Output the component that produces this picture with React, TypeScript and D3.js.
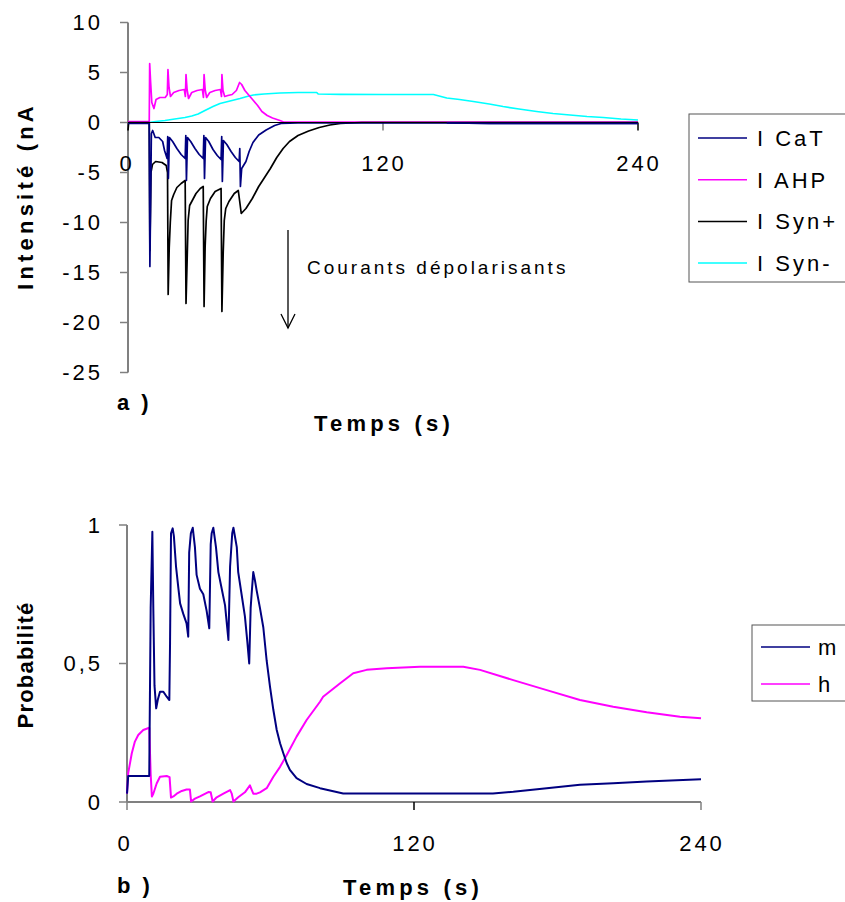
import React from "react";
import * as d3 from "d3";

// ---------- DATA (time in s, value) ----------
const topYTicks = [10, 5, 0, -5, -10, -15, -20, -25];
const topXTicks = [0, 120, 240];
const botYTicks = [1, 0.5, 0];
const botYTickLabels = ["1", "0,5", "0"];
const botXTicks = [0, 120, 240];

const topSeriesNames = ["I CaT", "I AHP", "I Syn+", "I Syn-"];
const topSeriesColors = ["#000080", "#FF00FF", "#000000", "#00FFFF"];
const botSeriesNames = ["m", "h"];
const botSeriesColors = ["#000080", "#FF00FF"];

const iCaT: [number, number][] = [
  [0, -0.1], [10.0, -0.1], [10.3, -14.4], [11.0, -1.1], [11.6, -0.8], [12.8, -1.5], [14.5, -1.5], [16.3, -1.9],
  [17.2, -2.8], [18.4, -3.6], [18.7, -1.4], [19.0, -5.6], [19.5, -1.5], [21, -1.9], [23, -2.6], [25, -3.2],
  [26.9, -3.6], [27.2, -1.3], [27.5, -5.8], [28.0, -1.5], [29.5, -1.9], [31.5, -2.6], [33.5, -3.2], [35.4, -3.6],
  [35.7, -1.3], [36.0, -5.6], [36.5, -1.5], [38, -1.9], [40, -2.7], [42, -3.3], [43.8, -3.7], [44.1, -1.4],
  [44.4, -5.9], [44.9, -1.8], [46.5, -2.2], [48.5, -2.9], [50.5, -3.5], [52.3, -3.9], [52.6, -2.6], [52.9, -6.4],
  [53.5, -4.6], [55.5, -3.9], [57, -2.9], [58.8, -2.0], [61.5, -1.25], [65, -0.75], [69, -0.3], [72, -0.1],
  [80, -0.05], [150, -0.05], [170, -0.1], [240, -0.1],
];
const iAHP: [number, number][] = [
  [0, 0.1], [10.0, 0.1], [10.2, 5.9], [10.6, 4.2], [11.2, 2.0], [12.2, 1.4], [13.2, 2.3], [15, 2.5], [17.5, 2.5],
  [18.5, 2.8], [18.8, 5.3], [19.3, 3.5], [20, 2.6], [21.5, 3.0], [24, 3.2], [26.5, 3.3], [27.0, 2.6], [27.3, 4.8],
  [27.8, 3.3], [28.5, 2.4], [30, 3.0], [32.5, 3.2], [35, 3.3], [35.5, 2.5], [35.8, 4.8], [36.3, 3.3], [37, 2.5],
  [38.5, 3.0], [41, 3.2], [43.5, 3.3], [44.0, 2.6], [44.2, 4.8], [44.7, 3.2], [45.5, 2.6], [47, 2.7], [49, 2.8],
  [51, 3.2], [52.5, 4.0], [53.5, 3.8], [55, 3.2], [57, 2.7], [59, 2.2], [61, 1.7], [63, 1.1], [65.5, 0.7],
  [68, 0.45], [71.5, 0.2], [73.5, 0.03], [120, 0.03], [240, 0.03],
];
const iSynPlus: [number, number][] = [
  [0, -0.8], [0.3, 0], [10.0, 0], [10.3, -12.8], [10.8, -5.0], [11.5, -4.2], [13, -3.9], [16, -4.0], [18.0, -4.3],
  [18.6, -5.0], [18.9, -17.2], [19.4, -12.5], [19.9, -10], [20.5, -7.8], [21.5, -7.2], [23, -6.5], [25, -6.1],
  [26.9, -5.8], [27.3, -18.1], [27.8, -14], [28.3, -9.8], [29, -8.3], [30.5, -7.7], [32, -7.1], [34, -6.6],
  [35.4, -6.4], [35.8, -18.4], [36.3, -12.4], [36.8, -9.8], [37.3, -8.4], [38.8, -7.6], [41, -6.9], [43.8, -6.6],
  [44.2, -18.9], [44.8, -13], [45.3, -9.8], [46, -8.6], [47.5, -7.9], [50, -7.1], [51.9, -6.8], [53.3, -9.1],
  [55.5, -8.6], [58.5, -7.6], [61.5, -6.4], [63.5, -5.75], [67, -4.6], [70, -3.5], [73, -2.6], [76, -1.9],
  [80, -1.3], [85, -0.85], [90, -0.5], [95, -0.25], [100, -0.08], [110, 0], [240, 0],
];
const iSynMinus: [number, number][] = [
  [0, 0], [10, 0], [13, 0.1], [17.4, 0.2], [22, 0.35], [26.8, 0.5], [30, 0.65], [33, 0.85], [36.2, 1.2],
  [40, 1.6], [43.3, 1.9], [48, 2.15], [52.7, 2.4], [56, 2.6], [59, 2.75], [64, 2.85], [71.5, 2.95], [80, 3.0],
  [88.8, 3.0], [89.5, 2.85], [100, 2.82], [120, 2.8], [143.7, 2.8], [150, 2.45], [156, 2.3], [162.5, 2.1],
  [170, 1.85], [176.5, 1.6], [184, 1.35], [192.3, 1.1], [200, 0.9], [208, 0.75], [216, 0.6], [223.7, 0.5],
  [232, 0.35], [240, 0.25],
];
const mProb: [number, number][] = [
  [0, 0.03], [0.5, 0.094], [9.3, 0.094], [9.9, 0.7], [10.6, 0.976], [11.0, 0.7], [11.5, 0.42], [12.2, 0.338],
  [12.9, 0.37], [13.8, 0.398], [15.2, 0.398], [16.6, 0.38], [17.7, 0.368], [18.0, 0.574], [18.4, 0.97],
  [19.1, 0.988], [19.6, 0.96], [20.5, 0.85], [21.5, 0.77], [22.2, 0.717], [23.5, 0.68], [24.9, 0.645],
  [25.6, 0.597], [26.0, 0.9], [26.7, 0.97], [27.5, 0.99], [28.4, 0.92], [29.1, 0.82], [30.5, 0.77],
  [31.9, 0.75], [33.3, 0.69], [34.4, 0.627], [35.0, 0.93], [35.4, 0.97], [36.1, 0.99], [37.2, 0.92],
  [38.2, 0.83], [39.6, 0.77], [41.0, 0.71], [42.4, 0.585], [43.1, 0.85], [44.0, 0.97], [44.5, 0.99],
  [45.9, 0.92], [46.5, 0.83], [47.9, 0.75], [49.3, 0.67], [50.3, 0.58], [51.1, 0.5], [51.7, 0.7], [52.1, 0.75],
  [52.8, 0.83], [53.5, 0.8], [54.2, 0.764], [55.6, 0.7], [57.0, 0.63], [58.4, 0.51], [59.8, 0.416],
  [61.2, 0.332], [62.6, 0.26], [64.0, 0.212], [65.4, 0.175], [66.8, 0.14], [68.1, 0.116], [70.9, 0.086],
  [75.1, 0.065], [80.7, 0.05], [90.4, 0.031], [153, 0.031], [161.5, 0.037], [175.5, 0.05], [189.4, 0.062],
  [203.3, 0.068], [217.3, 0.074], [240, 0.082],
];
const hProb: [number, number][] = [
  [0, 0.03], [0.5, 0.104], [2.0, 0.176], [3.3, 0.218], [4.7, 0.242], [6.8, 0.26], [9.3, 0.268], [9.9, 0.1],
  [10.4, 0.02], [11.0, 0.03], [12.4, 0.067], [13.8, 0.091], [16.6, 0.094], [17.8, 0.09], [18.4, 0.016],
  [19.4, 0.02], [20.8, 0.03], [22.9, 0.04], [24.9, 0.045], [26.3, 0.045], [26.8, 0.002], [28.4, 0.012],
  [30.5, 0.02], [34.0, 0.036], [35.0, 0.035], [35.8, 0.002], [37.5, 0.017], [40.3, 0.03], [43.1, 0.043],
  [43.8, 0.03], [44.5, 0.002], [46.5, 0.017], [49.3, 0.035], [51.4, 0.06], [52.1, 0.045], [52.8, 0.03],
  [54.2, 0.03], [55.6, 0.035], [58.4, 0.05], [61.2, 0.091], [64.0, 0.127], [66.8, 0.17], [70.9, 0.236],
  [75.1, 0.296], [80.7, 0.362], [82, 0.38], [89, 0.428], [94.6, 0.465], [100.2, 0.477], [108.6, 0.483],
  [122.5, 0.488], [140.6, 0.488], [147.6, 0.477], [161.5, 0.44], [175.5, 0.404], [189.4, 0.368],
  [203.3, 0.344], [217.3, 0.324], [231.2, 0.308], [240, 0.302],
];

const FONT = "'Liberation Sans', Arial, sans-serif";
const AXIS = "#808080";

export default function App() {
  const xT = d3.scaleLinear().domain([0, 240]).range([128, 638]);
  const yT = d3.scaleLinear().domain([-25, 10]).range([372.5, 22.5]);
  const xB = d3.scaleLinear().domain([0, 240]).range([127, 701]);
  const yB = d3.scaleLinear().domain([0, 1]).range([802, 525]);

  const lineT = d3.line<[number, number]>().x((d) => xT(d[0])).y((d) => yT(d[1]));
  const lineB = d3.line<[number, number]>().x((d) => xB(d[0])).y((d) => yB(d[1]));

  const topData = [iCaT, iAHP, iSynPlus, iSynMinus];
  const drawOrderTop = [3, 1, 2, 0];
  const botData = [mProb, hProb];

  const tick = { fontFamily: FONT, fontSize: 22, letterSpacing: 3, fill: "#000" } as const;
  const title = { fontFamily: FONT, fontSize: 22, fontWeight: 700, letterSpacing: 4.2, fill: "#000" } as const;

  return (
    <svg width={845} height={902} style={{ position: "absolute", left: 0, top: 0, background: "#fff" }}>
      <rect x={0} y={0} width={845} height={902} fill="#fff" />
      {/* ---------- TOP CHART ---------- */}
      <line x1={xT(0)} x2={xT(0)} y1={yT(10)} y2={yT(-25)} stroke={AXIS} strokeWidth={2} />
      {topYTicks.map((v) => (
        <g key={"ty" + v}>
          <line x1={xT(0) - 8} x2={xT(0)} y1={yT(v)} y2={yT(v)} stroke={AXIS} strokeWidth={1.5} />
          <text x={103} y={yT(v)} dy="0.36em" textAnchor="end" {...tick}>{v}</text>
        </g>
      ))}
      {topXTicks.map((v) => (
        <g key={"tx" + v}>
          {v > 0 && <line x1={xT(v)} x2={xT(v)} y1={yT(0)} y2={yT(0) + 8} stroke={v === 240 ? "#000" : AXIS} strokeWidth={1.5} />}
          <text x={xT(v) + (v === 0 ? -1 : 1)} y={171} textAnchor="middle" {...tick}>{v}</text>
        </g>
      ))}
      {drawOrderTop.map((i) => (
        <path key={"ts" + i} d={lineT(topData[i]) || ""} fill="none" stroke={topSeriesColors[i]} strokeWidth={1.7} strokeLinejoin="round" />
      ))}
      <line x1={xT(0)} x2={xT(240)} y1={yT(0)} y2={yT(0)} stroke="#000" strokeWidth={1.2} />
      <path d={lineT(iCaT.filter((d) => d[0] >= 150)) || ""} fill="none" stroke={topSeriesColors[0]} strokeWidth={1.7} />
      <text transform="translate(33,196) rotate(-90)" textAnchor="middle" {...title}>Intensité (nA</text>
      <text x={117} y={410} {...title} letterSpacing={3}>a )</text>
      <text x={384} y={431} textAnchor="middle" {...title}>Temps (s)</text>
      {/* annotation */}
      <text x={307} y={274} fontFamily={FONT} fontSize={19} letterSpacing={3}>Courants dépolarisants</text>
      <line x1={288} x2={288} y1={230} y2={328} stroke="#000" strokeWidth={1.3} />
      <path d="M281,314 L288,328 L295,314" fill="none" stroke="#000" strokeWidth={1.3} />
      {/* legend top */}
      <rect x={689} y={114} width={200} height={168} fill="#fff" stroke="#555" strokeWidth={1} />
      {topSeriesNames.map((n, i) => {
        const yy = 138 + i * 41.7;
        return (
          <g key={"tl" + i}>
            <line x1={698} x2={747} y1={yy} y2={yy} stroke={topSeriesColors[i]} strokeWidth={1.5} />
            <text x={757} y={yy} dy="0.36em" {...tick}>{n}</text>
          </g>
        );
      })}

      {/* ---------- BOTTOM CHART ---------- */}
      <line x1={xB(0)} x2={xB(0)} y1={yB(1)} y2={yB(0)} stroke={AXIS} strokeWidth={2} />
      <line x1={xB(0)} x2={xB(240)} y1={yB(0)} y2={yB(0)} stroke={AXIS} strokeWidth={2} />
      {botYTicks.map((v, i) => (
        <g key={"by" + v}>
          <line x1={xB(0) - 8} x2={xB(0)} y1={yB(v)} y2={yB(v)} stroke={AXIS} strokeWidth={1.5} />
          <text x={103} y={yB(v)} dy="0.36em" textAnchor="end" {...tick}>{botYTickLabels[i]}</text>
        </g>
      ))}
      {botXTicks.map((v) => (
        <g key={"bx" + v}>
          <line x1={xB(v)} x2={xB(v)} y1={yB(0)} y2={yB(0) + 8} stroke={v === 120 ? "#000" : AXIS} strokeWidth={1.5} />
          <text x={xB(v) + (v === 0 ? -2 : 1)} y={851} textAnchor="middle" {...tick}>{v}</text>
        </g>
      ))}
      {[1, 0].map((i) => (
        <path key={"bs" + i} d={lineB(botData[i]) || ""} fill="none" stroke={botSeriesColors[i]} strokeWidth={2} strokeLinejoin="round" />
      ))}
      <text transform="translate(33,665) rotate(-90)" textAnchor="middle" {...title} letterSpacing={1.2}>Probabilité</text>
      <text x={117} y={893} {...title} letterSpacing={3}>b )</text>
      <text x={413} y={895} textAnchor="middle" {...title}>Temps (s)</text>
      {/* legend bottom */}
      <rect x={752} y={625} width={150} height={76} fill="#fff" stroke="#555" strokeWidth={1} />
      {botSeriesNames.map((n, i) => {
        const yy = 647 + i * 37;
        return (
          <g key={"bl" + i}>
            <line x1={761} x2={810} y1={yy} y2={yy} stroke={botSeriesColors[i]} strokeWidth={1.5} />
            <text x={818} y={yy} dy="0.36em" {...tick}>{n}</text>
          </g>
        );
      })}
    </svg>
  );
}
